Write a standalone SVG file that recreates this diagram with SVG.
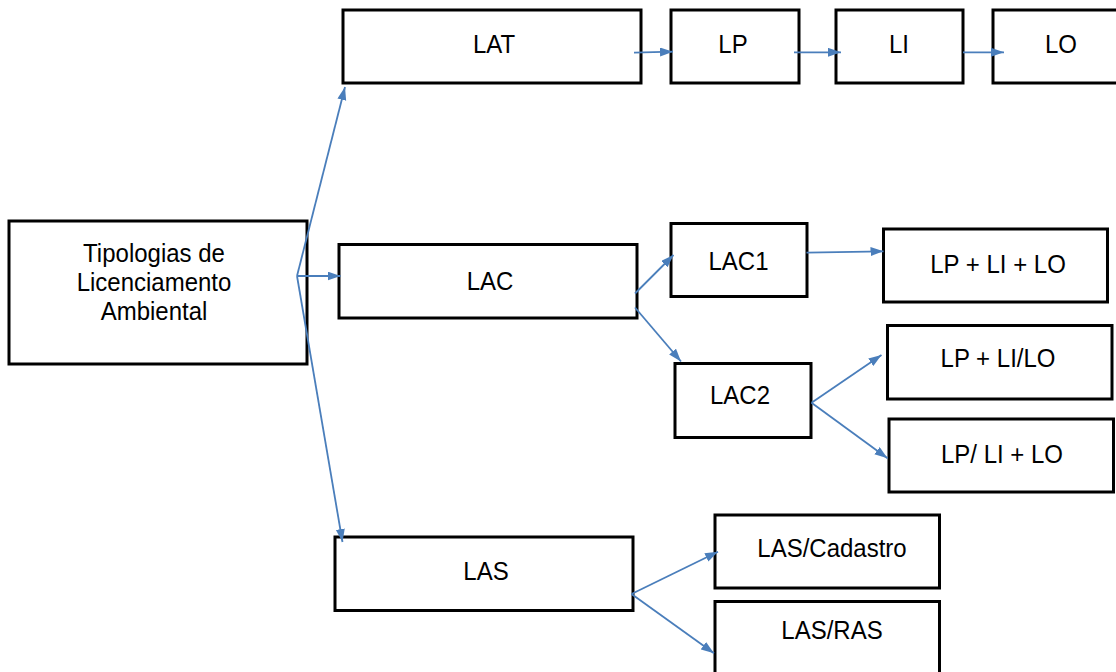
<svg xmlns="http://www.w3.org/2000/svg" width="1116" height="672" viewBox="0 0 1116 672">
  <style>
    .box { fill: #ffffff; stroke: #000000; stroke-width: 3; }
    .t { font-family: "Liberation Sans", Arial, sans-serif; font-size: 24px; fill: #000000; text-anchor: middle; }
    .c { fill: none; stroke: #4a7ebb; stroke-width: 1.8; marker-end: url(#arrow); }
    .c0 { fill: none; stroke: #4a7ebb; stroke-width: 1.8; }
  </style>
  <defs>
    <marker id="arrow" markerUnits="userSpaceOnUse" markerWidth="14" markerHeight="10" refX="13" refY="4.5" orient="auto">
      <path d="M0,0 L13,4.5 L0,9 Z" fill="#4a7ebb"/>
    </marker>
  </defs>
  <rect width="1116" height="672" fill="#ffffff"/>

  <!-- root -->
  <g id="root">
    <rect class="box" x="9" y="221" width="298" height="143"/>
    <text class="t" transform="translate(154,261.5) scale(1,1.1)">Tipologias de</text>
    <text class="t" transform="translate(154,290.5) scale(1,1.1)">Licenciamento</text>
    <text class="t" transform="translate(154,319.5) scale(1,1.1)">Ambiental</text>
  </g>

  <!-- LAT chain -->
  <g id="lat">
    <rect class="box" x="343" y="10" width="298" height="73"/>
    <text class="t" transform="translate(494,52.5) scale(1,1.1)">LAT</text>
  </g>
  <g id="lat-lp">
    <rect class="box" x="671" y="10" width="128" height="73"/>
    <text class="t" transform="translate(733,52.5) scale(1,1.1)">LP</text>
  </g>
  <g id="lat-li">
    <rect class="box" x="836" y="10" width="127" height="73"/>
    <text class="t" transform="translate(899,52.5) scale(1,1.1)">LI</text>
  </g>
  <g id="lat-lo">
    <rect class="box" x="993" y="10" width="130" height="73"/>
    <text class="t" transform="translate(1061,52.5) scale(1,1.1)">LO</text>
  </g>

  <!-- LAC branch -->
  <g id="lac">
    <rect class="box" x="339" y="244.5" width="298" height="73.5"/>
    <text class="t" transform="translate(490,290) scale(1,1.1)">LAC</text>
  </g>
  <g id="lac1">
    <rect class="box" x="671" y="223.5" width="136" height="73"/>
    <text class="t" transform="translate(738.5,270) scale(1,1.1)">LAC1</text>
  </g>
  <g id="lac1-full">
    <rect class="box" x="883.5" y="229" width="224" height="73"/>
    <text class="t" transform="translate(998,272.5) scale(1,1.1)">LP + LI + LO</text>
  </g>
  <g id="lac2">
    <rect class="box" x="675" y="363.5" width="136" height="74"/>
    <text class="t" transform="translate(740,403.5) scale(1,1.1)">LAC2</text>
  </g>
  <g id="lac2-a">
    <rect class="box" x="887.5" y="325.5" width="224.5" height="73.5"/>
    <text class="t" transform="translate(998,366.5) scale(1,1.1)">LP + LI/LO</text>
  </g>
  <g id="lac2-b">
    <rect class="box" x="889" y="419" width="224.5" height="73"/>
    <text class="t" transform="translate(1002,462.5) scale(1,1.1)">LP/ LI + LO</text>
  </g>

  <!-- LAS branch -->
  <g id="las">
    <rect class="box" x="335" y="537" width="298" height="73.5"/>
    <text class="t" transform="translate(486,580) scale(1,1.1)">LAS</text>
  </g>
  <g id="las-cadastro">
    <rect class="box" x="715" y="515" width="224.5" height="73"/>
    <text class="t" transform="translate(832,556.5) scale(1,1.1)">LAS/Cadastro</text>
  </g>
  <g id="las-ras">
    <rect class="box" x="715" y="601.5" width="224.5" height="80"/>
    <text class="t" transform="translate(832,638.5) scale(1,1.1)">LAS/RAS</text>
  </g>

  <!-- connectors -->
  <g id="connectors">
    <path class="c" d="M297,276 L345,87"/>
    <path class="c" d="M297,276 L340.5,276"/>
    <path class="c" d="M297,276 L342.5,542"/>
    <path class="c" d="M634,52.7 L673,51.7"/>
    <path class="c" d="M794,52.3 L841,52.3"/>
    <path class="c" d="M963,52.3 L1004,52.3"/>
    <path class="c" d="M635,293.5 L673.5,255"/>
    <path class="c" d="M635,307.5 L681,361.5"/>
    <path class="c" d="M806.5,252.7 L883.5,251.3"/>
    <path class="c" d="M811.5,402.7 L881.5,355"/>
    <path class="c" d="M811.5,402.7 L887.5,458.3"/>
    <path class="c" d="M631.5,594 L718,551.7"/>
    <path class="c" d="M631.5,594 L714,653.3"/>
  </g>
</svg>
